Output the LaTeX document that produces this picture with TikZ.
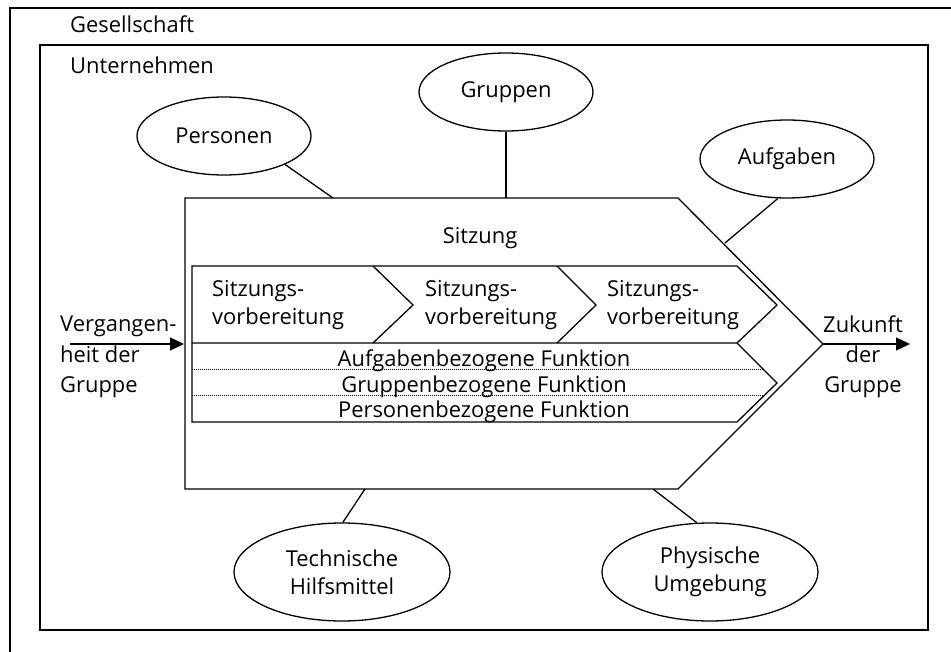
\documentclass[tikz,border=0pt]{standalone}
\usepackage{fontspec}
\setmainfont{Open Sans}
\usetikzlibrary{shapes.geometric,arrows.meta}
\begin{document}
\begin{tikzpicture}[x=1bp,y=-1bp,
  txt/.style={font=\fontsize{22}{30}\selectfont, inner sep=0pt},
  chevtxt/.style={font=\fontsize{22}{28}\selectfont, inner sep=0pt, align=left, anchor=west},
  oval/.style={draw, ellipse, line width=1.3bp, inner sep=0pt, align=center,
     font=\fontsize{22}{28}\selectfont},
  small/.style={oval, minimum width=174bp, minimum height=78bp},
  big/.style={oval, minimum width=216bp, minimum height=98bp},
  edge/.style={line width=1.3bp},
  conn/.style={line width=1.3bp},
  dots/.style={line width=0.8bp, dash pattern=on 0.8bp off 1.2bp},
  flow/.style={line width=1.3bp, -{Triangle[length=14bp,width=13bp]}}]
\useasboundingbox (0,0) rectangle (951,652);
\fill[white] (0,0) rectangle (951,652);
% frames
\draw[line width=2.5bp] (10,8) rectangle (1000,700);
\draw[edge] (40,45) rectangle (928,630);
\node[txt, anchor=base west] (ges) at (70,33) {Gesellschaft};
\node[txt, anchor=base west] (unt) at (70,74) {Unternehmen};
% Sitzung pentagon
\draw[edge] (185,198) -- (678,198) -- (823,344) -- (678,489) -- (185,489) -- cycle;
\coordinate (tip) at (823,344);
\coordinate (cP) at (333,198);
\coordinate (cG) at (506,198);
\coordinate (cA) at (725,243);
\coordinate (cT) at (365,489);
\coordinate (cU) at (653,489);
\node[txt, anchor=base] (sitz) at (480,243) {Sitzung};
% chevron row
\draw[edge] (192,343) -- (192,266) -- (737,266) -- (777,305) -- (737,343);
\draw[edge] (373,266) -- (413,305) -- (373,343);
\draw[edge] (557,266) -- (596,305) -- (557,343);
\node[chevtxt] (v1) at (212,305) {Sitzungs-\\vorbereitung};
\node[chevtxt] (v2) at (425,305) {Sitzungs-\\vorbereitung};
\node[chevtxt] (v3) at (607,305) {Sitzungs-\\vorbereitung};
% function block
\draw[edge] (192,343) -- (737,343) -- (777,383) -- (737,422) -- (192,422) -- cycle;
\draw[dots] (192,369) -- (763,369);
\draw[dots] (192,395) -- (765,395);
\node[txt, anchor=base] (f1) at (484,366) {Aufgabenbezogene Funktion};
\node[txt, anchor=base] (f2) at (484,392) {Gruppenbezogene Funktion};
\node[txt, anchor=base] (f3) at (484,417) {Personenbezogene Funktion};
% ellipses
\node[small] (pers) at (224,136) {Personen};
\node[small] (grup) at (506,92) {Gruppen};
\node[small] (aufg) at (787,159) {Aufgaben};
\node[big] (tech) at (342,572) {Technische\\Hilfsmittel};
\node[big] (phys) at (710,572) {Physische\\Umgebung};
\draw[conn] (pers.-25) -- (cP);
\draw[conn] (grup) -- (cG);
\draw[conn] (aufg.-103) -- (cA);
\draw[conn] (tech.89) -- (cT);
\draw[conn] (phys.105) -- (cU);
% past / future
\node[txt, align=left, anchor=west, font=\fontsize{22}{30.5}\selectfont] (past) at (60,357) {Vergangen-\\heit der\\Gruppe};
\node[txt, align=center, font=\fontsize{22}{30}\selectfont] (fut) at (863,357) {Zukunft\\der\\Gruppe};
\coordinate (pastS) at (70,344);
\coordinate (pastE) at (184,344);
\coordinate (futE) at (910,344);
\draw[flow] (pastS) -- (pastE);
\draw[flow] (tip) -- (futE);
\end{tikzpicture}
\end{document}
